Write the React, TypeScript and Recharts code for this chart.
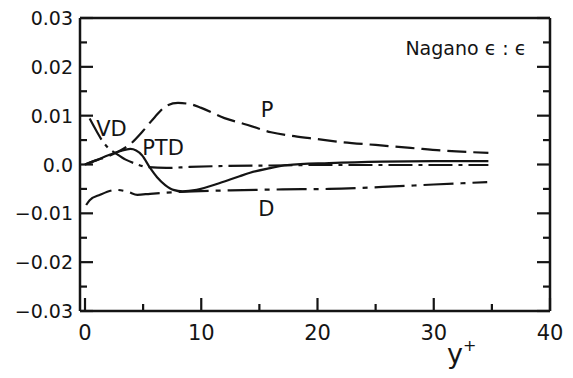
import React from 'react';
import { LineChart, Line, XAxis, YAxis, ReferenceDot, Label } from 'recharts';

// P (long dash)
const pX = [0, 1, 2, 3, 4, 5, 6, 7, 8, 9, 10, 12, 14, 16, 18, 20, 22, 25, 28, 31, 34.7];
const pY = [0, 0.0009, 0.0017, 0.0028, 0.0044, 0.0069, 0.0097, 0.012, 0.0126, 0.0124, 0.0116, 0.0095, 0.0081, 0.0066, 0.0058, 0.0052, 0.0046, 0.004, 0.0034, 0.0028, 0.0024];

// PTD (solid)
const ptdX = [0, 1, 2, 3, 3.9, 4.9, 5.6, 6.2, 6.9, 7.6, 8.4, 9.6, 11.6, 13.3, 14.2, 15.8, 17.4, 21, 25.6, 30, 34.7];
const ptdY = [0, 0.0009, 0.0019, 0.0027, 0.0032, 0.0019, -0.0007, -0.0026, -0.0042, -0.0052, -0.0055, -0.0052, -0.0038, -0.0024, -0.0017, -0.0008, -0.0001, 0.0003, 0.0006, 0.0007, 0.0007];

// VD (dash-dot)
const vdX = [0.4, 1.0, 1.5, 2.0, 2.7, 3.5, 4.3, 5.3, 7, 9, 12, 16, 20, 25, 30, 34.7];
const vdY = [0.0094, 0.0068, 0.0048, 0.0034, 0.0022, 0.001, 0.0002, -0.0005, -0.0007, -0.0005, -0.0003, -0.0002, -0.0001, -0.0001, -0.0001, -0.0001];

// D (dash-dot, long dashes)
const dX = [0.1, 0.4, 1.3, 2.7, 3.7, 4.5, 5.6, 8.2, 12.5, 17, 21, 25.6, 30, 34.6];
const dY = [-0.0083, -0.0073, -0.0062, -0.0052, -0.0056, -0.0062, -0.006, -0.0056, -0.0053, -0.0051, -0.005, -0.0046, -0.0041, -0.0036];

const xTicks = [0, 5, 10, 15, 20, 25, 30, 35, 40];
const yTicks = [-0.03, -0.025, -0.02, -0.015, -0.01, -0.005, 0, 0.005, 0.01, 0.015, 0.02, 0.025, 0.03];

const curveLabels = [
  { text: 'P', x: 15.66, y: 0.0112 },
  { text: 'VD', x: 2.28, y: 0.0072 },
  { text: 'PTD', x: 6.71, y: 0.0033 },
  { text: 'D', x: 15.6, y: -0.0092 },
];

const toRows = (xs: number[], ys: number[]) => xs.map((x, i) => ({ x, y: ys[i] }));

const INK = '#141414';
const FONT = '"DejaVu Sans", sans-serif';

const isMajorY = (v: number) => Math.abs(Math.round(v * 100) - v * 100) < 1e-6;
const fmtY = (v: number) => {
  if (Math.abs(v) < 1e-9) return '0.0';
  const s = Math.abs(v).toFixed(2);
  return v < 0 ? '\u2212' + s : s;
};

const LeftTick = (props: any) => {
  const { x, y, payload } = props;
  const major = isMajorY(payload.value);
  return (
    <g>
      <line x1={x} x2={x + (major ? 13 : 7)} y1={y} y2={y} stroke={INK} strokeWidth={2.2} />
      {major && (
        <text x={x - 7} y={y} textAnchor="end" dominantBaseline="central" fontFamily={FONT} fontSize={19} fill={INK}>
          {fmtY(payload.value)}
        </text>
      )}
    </g>
  );
};

const RightTick = (props: any) => {
  const { x, y, payload } = props;
  const major = isMajorY(payload.value);
  return <line x1={x} x2={x - (major ? 13 : 7)} y1={y} y2={y} stroke={INK} strokeWidth={2.2} />;
};

const BottomTick = (props: any) => {
  const { x, y, payload } = props;
  const major = payload.value % 10 === 0;
  return (
    <g>
      <line x1={x} x2={x} y1={y} y2={y - (major ? 13 : 7)} stroke={INK} strokeWidth={2.2} />
      {major && (
        <text x={x} y={y + 29} textAnchor="middle" fontFamily={FONT} fontSize={21} fill={INK}>
          {payload.value}
        </text>
      )}
    </g>
  );
};

export default function App() {
  return (
    <div style={{ position: 'absolute', left: 0, top: 0, background: '#fff' }}>
      <LineChart width={573} height={378} margin={{ top: 0, right: 0, bottom: 0, left: 0 }}>
        <XAxis
          xAxisId={0}
          type="number"
          dataKey="x"
          domain={[-0.43, 40]}
          ticks={xTicks}
          interval={0}
          tickSize={0}
          tickMargin={0}
          tickLine={false}
          tick={<BottomTick />}
          axisLine={{ stroke: INK, strokeWidth: 2.5 }}
          height={67}
          allowDataOverflow
        >
          <Label
            content={(p: any) => {
              const vb = p.viewBox;
              return (
                <text x={vb.x + 367} y={vb.y + 52} fontFamily={FONT} fontSize={27} fill={INK}>
                  y<tspan fontSize={16} dy={-12}>+</tspan>
                </text>
              );
            }}
          />
        </XAxis>
        <XAxis
          xAxisId="t"
          orientation="top"
          type="number"
          domain={[-0.43, 40]}
          tick={false}
          tickLine={false}
          axisLine={{ stroke: INK, strokeWidth: 2.5 }}
          height={18}
          allowDataOverflow
        />
        <YAxis
          yAxisId={0}
          type="number"
          domain={[-0.03, 0.03]}
          ticks={yTicks}
          interval={0}
          tickSize={0}
          tickMargin={0}
          tickLine={false}
          tick={<LeftTick />}
          axisLine={{ stroke: INK, strokeWidth: 2.5 }}
          width={80}
          allowDataOverflow
        />
        <YAxis
          yAxisId="r"
          orientation="right"
          type="number"
          domain={[-0.03, 0.03]}
          ticks={yTicks}
          interval={0}
          tickSize={0}
          tickMargin={0}
          tickLine={false}
          tick={<RightTick />}
          axisLine={{ stroke: INK, strokeWidth: 2.5 }}
          width={23}
          allowDataOverflow
        />
        <Line data={toRows(pX, pY)} dataKey="y" type="monotone" stroke={INK} strokeWidth={2.2} strokeDasharray="19 7" dot={false} isAnimationActive={false} />
        <Line data={toRows(ptdX, ptdY)} dataKey="y" type="monotone" stroke={INK} strokeWidth={2.2} dot={false} isAnimationActive={false} />
        <Line data={toRows(vdX, vdY)} dataKey="y" type="monotone" stroke={INK} strokeWidth={2.2} strokeDasharray="24 6 4 6" dot={false} isAnimationActive={false} />
        <Line data={toRows(dX, dY)} dataKey="y" type="monotone" stroke={INK} strokeWidth={2.2} strokeDasharray="30 7 5 7" dot={false} isAnimationActive={false} />
        {curveLabels.map((c) => (
          <ReferenceDot
            key={c.text}
            x={c.x}
            y={c.y}
            r={0.5}
            fill="none"
            stroke="none"
            label={(p: any) => {
              const vb = p.viewBox;
              return (
                <text x={vb.x + vb.width / 2} y={vb.y + vb.height / 2} textAnchor="middle" dominantBaseline="central" fontFamily={FONT} fontSize={21} fill={INK}>
                  {c.text}
                </text>
              );
            }}
          />
        ))}
        <ReferenceDot
          x={32.77}
          y={0.0224}
          r={0.5}
          fill="none"
          stroke="none"
          label={(p: any) => {
            const vb = p.viewBox;
            return (
              <text x={vb.x + vb.width / 2} y={vb.y} textAnchor="middle" fontFamily={FONT} fontSize={19} fill={INK}>
                {'Nagano \u03F5 : \u03F5'}
              </text>
            );
          }}
        />
      </LineChart>
    </div>
  );
}
